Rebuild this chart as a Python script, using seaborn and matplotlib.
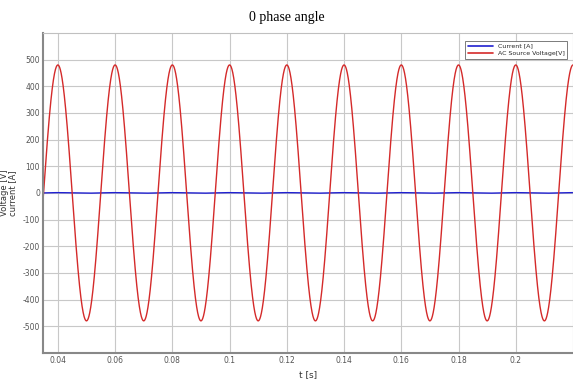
import matplotlib
matplotlib.use("Agg")
import matplotlib.pyplot as plt
import numpy as np
import pandas as pd
import seaborn as sns

# signal parameters
freq_hz = 50.0
v_peak = 480.0
i_peak = 1.0
t_peak = 0.04          # first voltage peak
t_start, t_end = 0.0348, 0.22

xticks = [0.04, 0.06, 0.08, 0.1, 0.12, 0.14, 0.16, 0.18, 0.2]
xticklabels = ["0.04", "0.06", "0.08", "0.1", "0.12", "0.14", "0.16", "0.18", "0.2"]
yticks = [-500, -400, -300, -200, -100, 0, 100, 200, 300, 400, 500]

t = np.linspace(t_start, t_end, 4000)
voltage = v_peak * np.cos(2 * np.pi * freq_hz * (t - t_peak))
current = i_peak * np.cos(2 * np.pi * freq_hz * (t - t_peak))

df = pd.DataFrame({
    "t": np.concatenate([t, t]),
    "val": np.concatenate([current, voltage]),
    "series": ["Current [A]"] * len(t) + ["AC Source Voltage[V]"] * len(t),
})

sns.set_theme(style="whitegrid")
plt.rcParams["font.family"] = ["DejaVu Sans"]
plt.rcParams["axes.unicode_minus"] = False

fig = plt.figure(figsize=(5.73, 3.79), dpi=100)
ax = fig.add_axes([0.075, 0.069, 0.925, 0.844])

sns.lineplot(data=df, x="t", y="val", hue="series",
             palette={"Current [A]": "#2020d0", "AC Source Voltage[V]": "#d42a2a"},
             ax=ax, linewidth=1.0, estimator=None, sort=False)
for line in ax.get_lines():
    if line.get_label() == "Current [A]":
        line.set_linewidth(2.0)

ax.set_xlim(t_start, t_end)
ax.set_ylim(-600, 600)
ax.set_xticks(xticks)
ax.set_xticklabels(xticklabels)
ax.set_yticks(yticks)
ax.tick_params(labelsize=5.5, colors="#555555", length=3, direction="in", pad=2)
ax.tick_params(axis="both", which="both", color="#444444")
ax.grid(True, color="#c8c8c8", linewidth=0.8)
for side in ["left", "bottom"]:
    ax.spines[side].set_color("#888888")
    ax.spines[side].set_linewidth(1.5)
for side in ["top", "right"]:
    ax.spines[side].set_color("#c0c0c0")
    ax.spines[side].set_linewidth(0.8)

ax.set_xlabel("t [s]", fontsize=6.5, color="#333333")
ax.set_ylabel("Voltage [V]\ncurrent [A]", fontsize=6, color="#333333",
              linespacing=0.9)
ax.xaxis.set_label_coords(0.5, -0.055)
ax.yaxis.set_label_coords(-0.048, 0.5)

leg = ax.legend(loc="upper right", fontsize=4.5, frameon=True, fancybox=False,
                edgecolor="#666666", framealpha=1, handlelength=4,
                borderpad=0.4, labelspacing=0.3, bbox_to_anchor=(0.995, 0.985))
leg.get_frame().set_linewidth(0.6)
for h in leg.get_lines():
    h.set_linewidth(1.2)

fig.text(0.5, 0.955, "0 phase angle", ha="center", va="center",
         fontsize=10, family=["Liberation Serif"], color="black")

fig.savefig("out.png", dpi=100)
